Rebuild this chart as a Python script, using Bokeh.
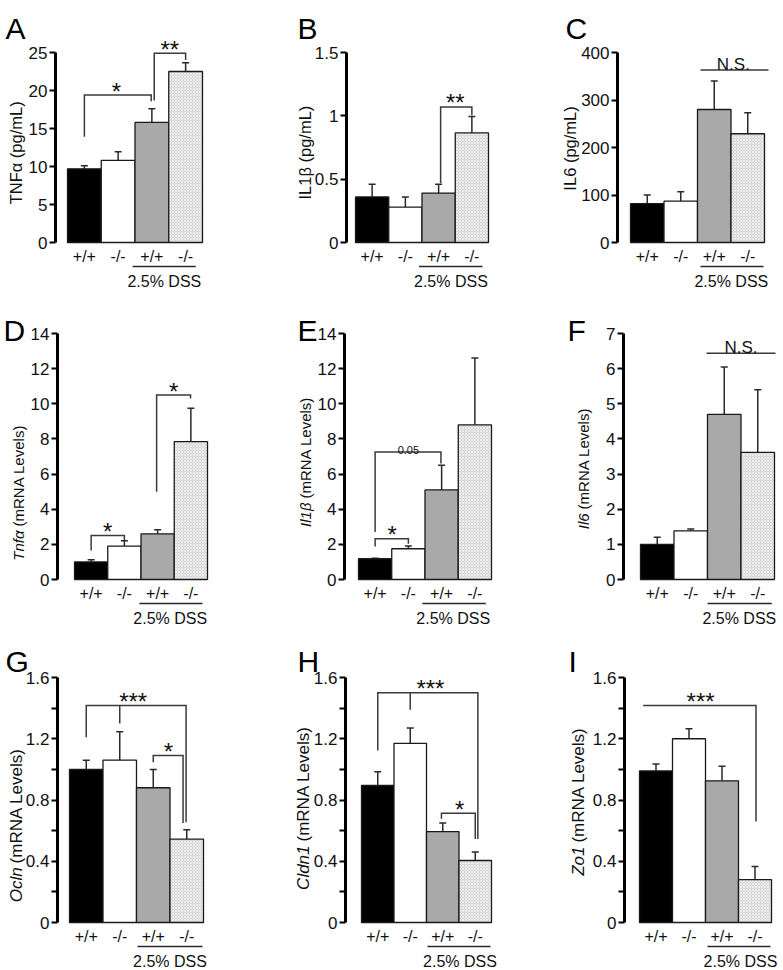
import math
from bokeh.plotting import figure
from bokeh.models import Range1d, FixedTicker, Whisker, TeeHead, ColumnDataSource
from bokeh.layouts import row, column
from bokeh.core.properties import value
from bokeh.embed import file_html
from bokeh.resources import INLINE

FONT = "Liberation Sans"
INK = "#111111"

# ---------------- data ----------------
genotypes = ["+/+", "-/-", "+/+", "-/-"]
treatment_label = "2.5% DSS"
positions = [1, 2, 3, 4]
bar_fills = ["#000000", "#ffffff", "#a9a9a9", "#d6d6d6"]
bar_hatch = [" ", " ", " ", "x"]

# A  TNFa protein
tnfa_pg = [9.7, 10.8, 15.8, 22.5]
tnfa_pg_sem = [0.4, 1.15, 1.8, 1.15]
# B  IL1b protein
il1b_pg = [0.36, 0.28, 0.39, 0.865]
il1b_pg_sem = [0.10, 0.08, 0.07, 0.13]
# C  IL6 protein
il6_pg = [82, 87, 280, 229]
il6_pg_sem = [18, 20, 60, 44]
# D  Tnfa mRNA
tnfa_mrna = [1.0, 1.9, 2.6, 7.85]
tnfa_mrna_sem = [0.12, 0.3, 0.23, 1.9]
# E  Il1b mRNA
il1b_mrna = [1.18, 1.75, 5.1, 8.8]
il1b_mrna_sem = [0.03, 0.15, 1.4, 3.8]
# F  Il6 mRNA
il6_mrna = [1.0, 1.385, 4.7, 3.62]
il6_mrna_sem = [0.2, 0.05, 1.35, 1.78]
# G  Ocln mRNA
ocln_mrna = [1.0, 1.06, 0.88, 0.545]
ocln_mrna_sem = [0.06, 0.185, 0.12, 0.06]
# H  Cldn1 mRNA
cldn1_mrna = [0.895, 1.17, 0.594, 0.405]
cldn1_mrna_sem = [0.09, 0.10, 0.055, 0.055]
# I  Zo1 mRNA
zo1_mrna = [0.99, 1.2, 0.925, 0.28]
zo1_mrna_sem = [0.045, 0.065, 0.095, 0.085]

# y ticks
ticks_A = [0, 5, 10, 15, 20, 25]
labels_A = ["0", "5", "10", "15", "20", "25"]
ticks_B = [0, 0.5, 1, 1.5]
labels_B = ["0", "0.5", "1", "1.5"]
ticks_C = [0, 100, 200, 300, 400]
labels_C = ["0", "100", "200", "300", "400"]
ticks_DE = [0, 2, 4, 6, 8, 10, 12, 14]
labels_DE = ["0", "2", "4", "6", "8", "10", "12", "14"]
ticks_F = [0, 1, 2, 3, 4, 5, 6, 7]
labels_F = ["0", "1", "2", "3", "4", "5", "6", "7"]
ticks_GHI = [0, 0.4, 0.8, 1.2, 1.6]
labels_GHI = ["0", "0.4", "0.8", "1.2", "1.6"]
minor_GHI = [0.2, 0.6, 1.0, 1.4]

# significance brackets (x in bar index, y in data units) and their marks
br_A_x = [[1, 1, 2.98, 2.98], [3.07, 3.07, 4, 4]]
br_A_y = [[13.9, 19.4, 19.4, 18.6], [18.7, 24.9, 24.9, 24.0]]
marks_A = [("*", 1.95, 19.4), ("**", 3.53, 24.9)]

br_B_x = [[3.06, 3.06, 4, 4]]
br_B_y = [[0.47, 1.07, 1.07, 1.005]]
marks_B = [("**", 3.5, 1.07)]

br_C_x = [[2.59, 4.62]]
br_C_y = [[363, 363]]
marks_C = [("N.S.", 3.57, 363)]

br_D_x = [[1, 1, 2, 2], [2.97, 2.97, 3.99, 3.99]]
br_D_y = [[1.65, 2.5, 2.5, 2.25], [5.0, 10.5, 10.5, 10.3]]
marks_D = [("*", 1.5, 2.5), ("*", 3.48, 10.5)]

br_E_x = [[1, 1, 2.98, 2.98], [1, 1, 2, 2]]
br_E_y = [[2.7, 7.25, 7.25, 6.6], [1.88, 2.32, 2.32, 2.03]]
marks_E = [("0.05", 2.0, 7.25), ("*", 1.51, 2.32)]

br_F_x = [[2.47, 4.53]]
br_F_y = [[6.44, 6.44]]
marks_F = [("N.S.", 3.5, 6.44)]

br_G_x = [[1, 1, 3.98, 3.98], [2, 2], [3, 3, 3.89, 3.89]]
br_G_y = [[1.21, 1.417, 1.417, 0.655], [1.417, 1.3], [1.047, 1.09, 1.09, 0.65]]
marks_G = [("***", 2.4, 1.417), ("*", 3.45, 1.09)]

br_H_x = [[1, 1, 4.08, 4.08], [2, 2], [2.96, 2.96, 4, 4]]
br_H_y = [[1.123, 1.5, 1.5, 0.546], [1.5, 1.39], [0.677, 0.714, 0.714, 0.546]]
marks_H = [("***", 2.62, 1.5), ("*", 3.52, 0.714)]

br_I_x = [[0.61, 4.03, 4.03]]
br_I_y = [[1.417, 1.417, 0.66]]
marks_I = [("***", 2.35, 1.417)]

# ---------------- layout (page pixels) ----------------
COL_LEFT = [0, 260, 520]
COL_W = [260, 260, 262]
ROW_TOP = [0, 300, 630]
ROW_H = [300, 330, 339]
ROW_TICK_TOP = [52, 333, 677]
ROW_ZERO = [242, 579, 922]
LETTER_BASE = [28, 330, 661]
YLABEL_SIZE = ["16.5px", "15px", "17px"]

panels = [
    dict(letter="A", col=0, row=0, axis=55, bar_left=67, bw=33.75, letter_x=5,
         vals=tnfa_pg, sem=tnfa_pg_sem, ticks=ticks_A, tlabels=labels_A, minor=[],
         plain="TNFα (pg/mL)", italic=None, lab_y=11.8, lab_dx=-40,
         bx=br_A_x, by=br_A_y, marks=marks_A, dss=(2.43, 4.30, 3.37)),
    dict(letter="B", col=1, row=0, axis=346, bar_left=355, bw=33.25, letter_x=297,
         vals=il1b_pg, sem=il1b_pg_sem, ticks=ticks_B, tlabels=labels_B, minor=[],
         plain="IL1β (pg/mL)", italic=None, lab_y=0.71, lab_dx=-41.5,
         bx=br_B_x, by=br_B_y, marks=marks_B, dss=(2.41, 4.32, 3.37)),
    dict(letter="C", col=2, row=0, axis=617, bar_left=630, bw=33.5, letter_x=565,
         vals=il6_pg, sem=il6_pg_sem, ticks=ticks_C, tlabels=labels_C, minor=[],
         plain="IL6 (pg/mL)", italic=None, lab_y=198, lab_dx=-47.5,
         bx=br_C_x, by=br_C_y, marks=marks_C, dss=(2.59, 4.47, 3.51)),
    dict(letter="D", col=0, row=1, axis=57, bar_left=74, bw=33.25, letter_x=3,
         vals=tnfa_mrna, sem=tnfa_mrna_sem, ticks=ticks_DE, tlabels=labels_DE, minor=[],
         plain="(mRNA Levels)", italic="Tnfα", lab_y=2.79, lab_dx=-39.5,
         bx=br_D_x, by=br_D_y, marks=marks_D, dss=(2.45, 4.35, 3.38)),
    dict(letter="E", col=1, row=1, axis=344, bar_left=358, bw=33.25, letter_x=297,
         vals=il1b_mrna, sem=il1b_mrna_sem, ticks=ticks_DE, tlabels=labels_DE, minor=[],
         plain="(mRNA Levels)", italic="Il1β", lab_y=4.38, lab_dx=-39.5,
         bx=br_E_x, by=br_E_y, marks=marks_E, dss=(2.42, 4.33, 3.35)),
    dict(letter="F", col=2, row=1, axis=623, bar_left=640, bw=33.5, letter_x=567,
         vals=il6_mrna, sem=il6_mrna_sem, ticks=ticks_F, tlabels=labels_F, minor=[],
         plain="(mRNA Levels)", italic="Il6", lab_y=1.88, lab_dx=-40.5,
         bx=br_F_x, by=br_F_y, marks=marks_F, dss=(2.5, 4.42, 3.45)),
    dict(letter="G", col=0, row=2, axis=57, bar_left=69, bw=33.5, letter_x=5,
         vals=ocln_mrna, sem=ocln_mrna_sem, ticks=ticks_GHI, tlabels=labels_GHI, minor=minor_GHI,
         plain="(mRNA Levels)", italic="Ocln", lab_y=0.36, lab_dx=-41.5,
         bx=br_G_x, by=br_G_y, marks=marks_G, dss=(2.53, 4.47, 3.5)),
    dict(letter="H", col=1, row=2, axis=345, bar_left=361, bw=32.5, letter_x=297,
         vals=cldn1_mrna, sem=cldn1_mrna_sem, ticks=ticks_GHI, tlabels=labels_GHI, minor=minor_GHI,
         plain="(mRNA Levels)", italic="Cldn1", lab_y=0.503, lab_dx=-42.5,
         bx=br_H_x, by=br_H_y, marks=marks_H, dss=(2.53, 4.47, 3.53)),
    dict(letter="I", col=2, row=2, axis=624, bar_left=639, bw=33.0, letter_x=568,
         vals=zo1_mrna, sem=zo1_mrna_sem, ticks=ticks_GHI, tlabels=labels_GHI, minor=minor_GHI,
         plain="(mRNA Levels)", italic="Zo1", lab_y=0.496, lab_dx=-46.5,
         bx=br_I_x, by=br_I_y, marks=marks_I, dss=(2.56, 4.47, 3.56)),
]


def build(s):
    c, r = s["col"], s["row"]
    cl, cw = COL_LEFT[c], COL_W[c]
    rt, rh = ROW_TOP[r], ROW_H[r]
    ytop, yzero = ROW_TICK_TOP[r], ROW_ZERO[r]
    ymax = s["ticks"][-1]
    ppu = (yzero - ytop) / ymax
    bw = s["bw"]

    def dy(px):
        return px / ppu

    def dx(px):
        return px / bw

    y_start = -(rt + rh - yzero) / ppu
    y_end = ymax + (ytop - rt) / ppu
    axis_loc = 0.5 - dx(s["bar_left"] - s["axis"])
    x_start = axis_loc - dx(s["axis"] - cl)
    x_end = x_start + dx(cw)

    p = figure(width=cw, height=rh,
               x_range=Range1d(x_start, x_end), y_range=Range1d(y_start, y_end),
               x_axis_location=None, y_axis_location="left",
               toolbar_location=None, output_backend="svg",
               min_border_left=0, min_border_right=0,
               min_border_top=0, min_border_bottom=0)
    p.outline_line_color = None
    p.background_fill_color = "white"
    p.border_fill_color = "white"
    for g in p.grid:
        g.visible = False

    ax = p.yaxis[0]
    ax.fixed_location = axis_loc
    ax.bounds = (0, ymax)
    ax.ticker = FixedTicker(ticks=s["ticks"], minor_ticks=s["minor"])
    ax.major_label_overrides = dict(zip(s["ticks"], s["tlabels"]))
    ax.axis_line_width = 3
    ax.axis_line_color = "black"
    ax.axis_line_cap = "butt"
    ax.major_tick_line_width = 2
    ax.major_tick_out = 6
    ax.major_tick_in = 0
    ax.minor_tick_line_width = 2
    ax.minor_tick_out = 6 if s["minor"] else 0
    ax.minor_tick_in = 0
    ax.major_label_text_font = FONT
    ax.major_label_text_font_size = "17px"
    ax.major_label_text_color = INK
    ax.major_label_standoff = 2

    vals, sem = s["vals"], s["sem"]
    src = ColumnDataSource(dict(
        x=positions, top=vals, upper=[v + e for v, e in zip(vals, sem)],
        fill=bar_fills, hatch=bar_hatch))
    p.vbar(x="x", top="top", bottom=0, width=1, source=src,
           fill_color="fill", line_color="#1a1a1a", line_width=1.3,
           hatch_pattern="hatch", hatch_color="white", hatch_scale=3,
           hatch_weight=0.8, hatch_alpha=0.7)
    p.add_layout(Whisker(source=src, base="x", lower="top", upper="upper",
                         line_color="#2a2a2a", line_width=1.5,
                         upper_head=TeeHead(size=7, line_color="#2a2a2a", line_width=1.5),
                         lower_head=None))

    # genotype labels and treatment bar
    p.text(x=positions, y=[-dy(14)] * 4, text=genotypes,
           text_font=value(FONT), text_font_size="16px", text_color=INK,
           text_align="center", text_baseline="middle")
    d0, d1, dt = s["dss"]
    p.segment(x0=[d0], y0=[-dy(24)], x1=[d1], y1=[-dy(24)],
              line_color="#2a2a2a", line_width=1.5)
    p.text(x=[dt], y=[-dy(39)], text=[treatment_label],
           text_font=value(FONT), text_font_size="16px", text_color=INK,
           text_align="center", text_baseline="middle")

    # brackets and marks
    p.multi_line(xs=s["bx"], ys=s["by"], line_color="#3a3a3a", line_width=1.5,
                 line_join="miter")
    for txt, mx, my in s["marks"]:
        if txt.startswith("*"):
            size, base, lift = "24px", "middle", 4
        elif txt == "N.S.":
            size, base, lift = "17px", "alphabetic", 6
        else:
            size, base, lift = "11px", "alphabetic", 2
        p.text(x=[mx], y=[my + dy(lift)], text=[txt],
               text_font=value(FONT), text_font_size=size, text_color=INK,
               text_align="center", text_baseline=base)

    # y-axis label (rotated text)
    lx = axis_loc + dx(s["lab_dx"])
    fs = YLABEL_SIZE[r]
    if s["italic"] is None:
        p.text(x=[lx], y=[s["lab_y"]], text=[s["plain"]], angle=math.pi / 2,
               text_align="center", text_baseline="middle",
               text_font=value(FONT), text_font_size=fs, text_color=INK)
    else:
        p.text(x=[lx], y=[s["lab_y"]], text=[s["italic"]], angle=math.pi / 2,
               text_align="right", text_baseline="middle",
               text_font=value(FONT), text_font_size=fs, text_font_style="italic",
               text_color=INK)
        p.text(x=[lx], y=[s["lab_y"] + dy(4)], text=[s["plain"]], angle=math.pi / 2,
               text_align="left", text_baseline="middle",
               text_font=value(FONT), text_font_size=fs, text_color=INK)

    # panel letter
    p.text(x=[axis_loc + dx(s["letter_x"] - s["axis"])], y=[(yzero - LETTER_BASE[r]) / ppu],
           text=[s["letter"]], text_align="left", text_baseline="alphabetic",
           text_font=value(FONT), text_font_size="30px", text_color="black")
    return p


figs = [build(s) for s in panels]
layout = column(row(*figs[0:3]), row(*figs[3:6]), row(*figs[6:9]))

open("out.html", "w").write(file_html(layout, INLINE))
